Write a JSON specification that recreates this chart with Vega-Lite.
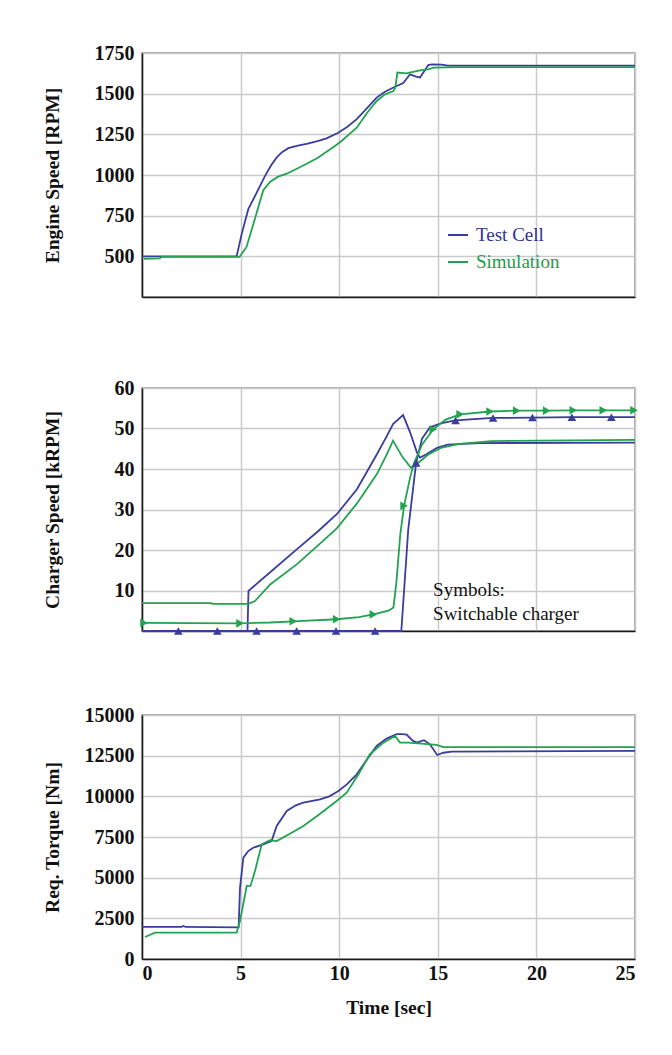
{
  "$schema": "https://vega.github.io/schema/vega-lite/v6.json",
  "padding": {"left": 41, "top": 42, "right": 10, "bottom": 10},
  "background": "white",
  "config": {
    "font": "Liberation Serif",
    "view": {"stroke": "#8c8c8c", "strokeWidth": 1.5},
    "axis": {
      "labelFont": "Liberation Serif", "labelFontSize": 20, "labelFontWeight": "bold", "labelColor": "#111111",
      "titleFont": "Liberation Serif", "titleFontSize": 19.5, "titleFontWeight": "bold", "titleColor": "#111111",
      "gridColor": "#cacaca", "gridWidth": 1.5, "domainColor": "#1a1a1a", "domainWidth": 1.5,
      "ticks": false, "labelPadding": 8
    }
  },
  "datasets": {
    "p1": [
      {"t": 0, "v": 500, "src": "Test Cell"},
      {"t": 4.8, "v": 500, "src": "Test Cell"},
      {"t": 5.05, "v": 635, "src": "Test Cell"},
      {"t": 5.39, "v": 790, "src": "Test Cell"},
      {"t": 5.81, "v": 890, "src": "Test Cell"},
      {"t": 6.24, "v": 995, "src": "Test Cell"},
      {"t": 6.55, "v": 1060, "src": "Test Cell"},
      {"t": 6.83, "v": 1108, "src": "Test Cell"},
      {"t": 7.1, "v": 1140, "src": "Test Cell"},
      {"t": 7.42, "v": 1165, "src": "Test Cell"},
      {"t": 7.9, "v": 1180, "src": "Test Cell"},
      {"t": 8.35, "v": 1192, "src": "Test Cell"},
      {"t": 8.9, "v": 1208, "src": "Test Cell"},
      {"t": 9.36, "v": 1225, "src": "Test Cell"},
      {"t": 9.95, "v": 1260, "src": "Test Cell"},
      {"t": 10.4, "v": 1295, "src": "Test Cell"},
      {"t": 10.89, "v": 1343, "src": "Test Cell"},
      {"t": 11.4, "v": 1410, "src": "Test Cell"},
      {"t": 11.9, "v": 1476, "src": "Test Cell"},
      {"t": 12.3, "v": 1510, "src": "Test Cell"},
      {"t": 12.75, "v": 1538, "src": "Test Cell"},
      {"t": 13.25, "v": 1565, "src": "Test Cell"},
      {"t": 13.59, "v": 1619, "src": "Test Cell"},
      {"t": 13.9, "v": 1605, "src": "Test Cell"},
      {"t": 14.1, "v": 1600, "src": "Test Cell"},
      {"t": 14.52, "v": 1676, "src": "Test Cell"},
      {"t": 14.7, "v": 1680, "src": "Test Cell"},
      {"t": 15.2, "v": 1678, "src": "Test Cell"},
      {"t": 15.5, "v": 1672, "src": "Test Cell"},
      {"t": 25, "v": 1672, "src": "Test Cell"},
      {"t": 0.1, "v": 485, "src": "Simulation"},
      {"t": 0.9, "v": 488, "src": "Simulation"},
      {"t": 1.0, "v": 497, "src": "Simulation"},
      {"t": 4.95, "v": 497, "src": "Simulation"},
      {"t": 5.3, "v": 558, "src": "Simulation"},
      {"t": 5.73, "v": 732, "src": "Simulation"},
      {"t": 6.15, "v": 906, "src": "Simulation"},
      {"t": 6.49, "v": 957, "src": "Simulation"},
      {"t": 6.9, "v": 990, "src": "Simulation"},
      {"t": 7.34, "v": 1008, "src": "Simulation"},
      {"t": 7.8, "v": 1035, "src": "Simulation"},
      {"t": 8.35, "v": 1069, "src": "Simulation"},
      {"t": 8.9, "v": 1105, "src": "Simulation"},
      {"t": 9.36, "v": 1143, "src": "Simulation"},
      {"t": 9.8, "v": 1180, "src": "Simulation"},
      {"t": 10.12, "v": 1209, "src": "Simulation"},
      {"t": 10.5, "v": 1250, "src": "Simulation"},
      {"t": 10.89, "v": 1291, "src": "Simulation"},
      {"t": 11.4, "v": 1380, "src": "Simulation"},
      {"t": 11.9, "v": 1455, "src": "Simulation"},
      {"t": 12.3, "v": 1495, "src": "Simulation"},
      {"t": 12.75, "v": 1516, "src": "Simulation"},
      {"t": 12.85, "v": 1540, "src": "Simulation"},
      {"t": 12.95, "v": 1630, "src": "Simulation"},
      {"t": 13.4, "v": 1625, "src": "Simulation"},
      {"t": 13.8, "v": 1635, "src": "Simulation"},
      {"t": 14.1, "v": 1643, "src": "Simulation"},
      {"t": 14.5, "v": 1650, "src": "Simulation"},
      {"t": 14.8, "v": 1660, "src": "Simulation"},
      {"t": 16.0, "v": 1663, "src": "Simulation"},
      {"t": 25, "v": 1663, "src": "Simulation"}
    ],
    "p2": [
      {"t": 0, "v": 0, "src": "Test Cell", "series": "TC conventional", "mk": false},
      {"t": 5.35, "v": 0, "src": "Test Cell", "series": "TC conventional", "mk": false},
      {"t": 5.4, "v": 9.9, "src": "Test Cell", "series": "TC conventional", "mk": false},
      {"t": 6.5, "v": 14.5, "src": "Test Cell", "series": "TC conventional", "mk": false},
      {"t": 7.86, "v": 20.2, "src": "Test Cell", "series": "TC conventional", "mk": false},
      {"t": 8.9, "v": 24.5, "src": "Test Cell", "series": "TC conventional", "mk": false},
      {"t": 9.89, "v": 28.9, "src": "Test Cell", "series": "TC conventional", "mk": false},
      {"t": 10.9, "v": 35, "src": "Test Cell", "series": "TC conventional", "mk": false},
      {"t": 11.92, "v": 43.7, "src": "Test Cell", "series": "TC conventional", "mk": false},
      {"t": 12.4, "v": 48, "src": "Test Cell", "series": "TC conventional", "mk": false},
      {"t": 12.73, "v": 51.1, "src": "Test Cell", "series": "TC conventional", "mk": false},
      {"t": 13.24, "v": 53.3, "src": "Test Cell", "series": "TC conventional", "mk": false},
      {"t": 13.6, "v": 49, "src": "Test Cell", "series": "TC conventional", "mk": false},
      {"t": 13.95, "v": 44, "src": "Test Cell", "series": "TC conventional", "mk": false},
      {"t": 14.1, "v": 42.8, "src": "Test Cell", "series": "TC conventional", "mk": false},
      {"t": 14.4, "v": 43.6, "src": "Test Cell", "series": "TC conventional", "mk": false},
      {"t": 14.96, "v": 45.2, "src": "Test Cell", "series": "TC conventional", "mk": false},
      {"t": 15.5, "v": 46, "src": "Test Cell", "series": "TC conventional", "mk": false},
      {"t": 17.1, "v": 46.4, "src": "Test Cell", "series": "TC conventional", "mk": false},
      {"t": 25, "v": 46.5, "src": "Test Cell", "series": "TC conventional", "mk": false},
      {"t": 0, "v": 6.9, "src": "Simulation", "series": "Sim conventional", "mk": false},
      {"t": 3.5, "v": 6.9, "src": "Simulation", "series": "Sim conventional", "mk": false},
      {"t": 3.6, "v": 6.7, "src": "Simulation", "series": "Sim conventional", "mk": false},
      {"t": 5.4, "v": 6.7, "src": "Simulation", "series": "Sim conventional", "mk": false},
      {"t": 5.73, "v": 7.4, "src": "Simulation", "series": "Sim conventional", "mk": false},
      {"t": 6.5, "v": 11.5, "src": "Simulation", "series": "Sim conventional", "mk": false},
      {"t": 7.86, "v": 16.5, "src": "Simulation", "series": "Sim conventional", "mk": false},
      {"t": 8.9, "v": 21, "src": "Simulation", "series": "Sim conventional", "mk": false},
      {"t": 9.89, "v": 25.4, "src": "Simulation", "series": "Sim conventional", "mk": false},
      {"t": 10.9, "v": 31.5, "src": "Simulation", "series": "Sim conventional", "mk": false},
      {"t": 11.92, "v": 38.8, "src": "Simulation", "series": "Sim conventional", "mk": false},
      {"t": 12.4, "v": 43.5, "src": "Simulation", "series": "Sim conventional", "mk": false},
      {"t": 12.73, "v": 47.0, "src": "Simulation", "series": "Sim conventional", "mk": false},
      {"t": 13.2, "v": 43, "src": "Simulation", "series": "Sim conventional", "mk": false},
      {"t": 13.64, "v": 40.3, "src": "Simulation", "series": "Sim conventional", "mk": false},
      {"t": 14.0, "v": 41.5, "src": "Simulation", "series": "Sim conventional", "mk": false},
      {"t": 14.5, "v": 43.5, "src": "Simulation", "series": "Sim conventional", "mk": false},
      {"t": 15.2, "v": 45.3, "src": "Simulation", "series": "Sim conventional", "mk": false},
      {"t": 16.1, "v": 46.2, "src": "Simulation", "series": "Sim conventional", "mk": false},
      {"t": 17.7, "v": 46.9, "src": "Simulation", "series": "Sim conventional", "mk": false},
      {"t": 25, "v": 47.2, "src": "Simulation", "series": "Sim conventional", "mk": false},
      {"t": 0, "v": 0, "src": "Test Cell", "series": "TC switchable", "mk": false},
      {"t": 1.84, "v": 0, "src": "Test Cell", "series": "TC switchable", "mk": true},
      {"t": 3.82, "v": 0, "src": "Test Cell", "series": "TC switchable", "mk": true},
      {"t": 5.81, "v": 0, "src": "Test Cell", "series": "TC switchable", "mk": true},
      {"t": 7.84, "v": 0, "src": "Test Cell", "series": "TC switchable", "mk": true},
      {"t": 9.84, "v": 0, "src": "Test Cell", "series": "TC switchable", "mk": true},
      {"t": 11.82, "v": 0, "src": "Test Cell", "series": "TC switchable", "mk": true},
      {"t": 13.15, "v": 0, "src": "Test Cell", "series": "TC switchable", "mk": false},
      {"t": 13.5, "v": 25, "src": "Test Cell", "series": "TC switchable", "mk": false},
      {"t": 13.9, "v": 41.5, "src": "Test Cell", "series": "TC switchable", "mk": true},
      {"t": 14.2, "v": 47.5, "src": "Test Cell", "series": "TC switchable", "mk": false},
      {"t": 14.6, "v": 50.3, "src": "Test Cell", "series": "TC switchable", "mk": false},
      {"t": 15.2, "v": 51.3, "src": "Test Cell", "series": "TC switchable", "mk": false},
      {"t": 15.9, "v": 52.0, "src": "Test Cell", "series": "TC switchable", "mk": true},
      {"t": 17.8, "v": 52.6, "src": "Test Cell", "series": "TC switchable", "mk": true},
      {"t": 19.8, "v": 52.7, "src": "Test Cell", "series": "TC switchable", "mk": true},
      {"t": 21.8, "v": 52.8, "src": "Test Cell", "series": "TC switchable", "mk": true},
      {"t": 23.8, "v": 52.8, "src": "Test Cell", "series": "TC switchable", "mk": true},
      {"t": 25, "v": 52.8, "src": "Test Cell", "series": "TC switchable", "mk": false},
      {"t": 0.1, "v": 2.0, "src": "Simulation", "series": "Sim switchable", "mk": true},
      {"t": 4.97, "v": 1.9, "src": "Simulation", "series": "Sim switchable", "mk": true},
      {"t": 6.5, "v": 2.1, "src": "Simulation", "series": "Sim switchable", "mk": false},
      {"t": 7.67, "v": 2.4, "src": "Simulation", "series": "Sim switchable", "mk": true},
      {"t": 9.87, "v": 2.9, "src": "Simulation", "series": "Sim switchable", "mk": true},
      {"t": 11.0, "v": 3.4, "src": "Simulation", "series": "Sim switchable", "mk": false},
      {"t": 11.73, "v": 4.1, "src": "Simulation", "series": "Sim switchable", "mk": true},
      {"t": 12.5, "v": 5.0, "src": "Simulation", "series": "Sim switchable", "mk": false},
      {"t": 12.75, "v": 5.8, "src": "Simulation", "series": "Sim switchable", "mk": false},
      {"t": 12.9, "v": 12, "src": "Simulation", "series": "Sim switchable", "mk": false},
      {"t": 13.1, "v": 24, "src": "Simulation", "series": "Sim switchable", "mk": false},
      {"t": 13.29, "v": 30.9, "src": "Simulation", "series": "Sim switchable", "mk": true},
      {"t": 13.6, "v": 38, "src": "Simulation", "series": "Sim switchable", "mk": false},
      {"t": 13.8, "v": 41.5, "src": "Simulation", "series": "Sim switchable", "mk": false},
      {"t": 14.2, "v": 46, "src": "Simulation", "series": "Sim switchable", "mk": false},
      {"t": 14.77, "v": 49.8, "src": "Simulation", "series": "Sim switchable", "mk": true},
      {"t": 15.4, "v": 52.2, "src": "Simulation", "series": "Sim switchable", "mk": false},
      {"t": 16.13, "v": 53.5, "src": "Simulation", "series": "Sim switchable", "mk": true},
      {"t": 17.65, "v": 54.2, "src": "Simulation", "series": "Sim switchable", "mk": true},
      {"t": 19.0, "v": 54.4, "src": "Simulation", "series": "Sim switchable", "mk": true},
      {"t": 20.52, "v": 54.4, "src": "Simulation", "series": "Sim switchable", "mk": true},
      {"t": 21.87, "v": 54.5, "src": "Simulation", "series": "Sim switchable", "mk": true},
      {"t": 23.39, "v": 54.5, "src": "Simulation", "series": "Sim switchable", "mk": true},
      {"t": 24.95, "v": 54.5, "src": "Simulation", "series": "Sim switchable", "mk": true}
    ],
    "ann": [
      {"t": 14.76, "v": 10.1, "text": "Symbols:"},
      {"t": 14.76, "v": 4.2, "text": "Switchable charger"}
    ],
    "p3": [
      {"t": 0, "v": 1970, "src": "Test Cell"},
      {"t": 2.0, "v": 1970, "src": "Test Cell"},
      {"t": 2.1, "v": 2030, "src": "Test Cell"},
      {"t": 2.2, "v": 1970, "src": "Test Cell"},
      {"t": 4.9, "v": 1950, "src": "Test Cell"},
      {"t": 4.97, "v": 4380, "src": "Test Cell"},
      {"t": 5.14, "v": 6230, "src": "Test Cell"},
      {"t": 5.4, "v": 6650, "src": "Test Cell"},
      {"t": 5.64, "v": 6840, "src": "Test Cell"},
      {"t": 6.15, "v": 7050, "src": "Test Cell"},
      {"t": 6.57, "v": 7250, "src": "Test Cell"},
      {"t": 6.83, "v": 8180, "src": "Test Cell"},
      {"t": 7.34, "v": 9100, "src": "Test Cell"},
      {"t": 7.8, "v": 9450, "src": "Test Cell"},
      {"t": 8.18, "v": 9610, "src": "Test Cell"},
      {"t": 9.03, "v": 9820, "src": "Test Cell"},
      {"t": 9.5, "v": 10000, "src": "Test Cell"},
      {"t": 9.96, "v": 10330, "src": "Test Cell"},
      {"t": 10.4, "v": 10750, "src": "Test Cell"},
      {"t": 10.89, "v": 11350, "src": "Test Cell"},
      {"t": 11.4, "v": 12250, "src": "Test Cell"},
      {"t": 11.9, "v": 13100, "src": "Test Cell"},
      {"t": 12.4, "v": 13550, "src": "Test Cell"},
      {"t": 12.92, "v": 13820, "src": "Test Cell"},
      {"t": 13.2, "v": 13830, "src": "Test Cell"},
      {"t": 13.42, "v": 13800, "src": "Test Cell"},
      {"t": 13.7, "v": 13450, "src": "Test Cell"},
      {"t": 13.93, "v": 13300, "src": "Test Cell"},
      {"t": 14.3, "v": 13450, "src": "Test Cell"},
      {"t": 14.6, "v": 13200, "src": "Test Cell"},
      {"t": 14.97, "v": 12540, "src": "Test Cell"},
      {"t": 15.28, "v": 12680, "src": "Test Cell"},
      {"t": 15.7, "v": 12750, "src": "Test Cell"},
      {"t": 25, "v": 12790, "src": "Test Cell"},
      {"t": 0.15, "v": 1350, "src": "Simulation"},
      {"t": 0.66, "v": 1620, "src": "Simulation"},
      {"t": 4.8, "v": 1620, "src": "Simulation"},
      {"t": 4.97, "v": 2340, "src": "Simulation"},
      {"t": 5.31, "v": 4490, "src": "Simulation"},
      {"t": 5.5, "v": 4490, "src": "Simulation"},
      {"t": 5.73, "v": 5410, "src": "Simulation"},
      {"t": 6.07, "v": 7050, "src": "Simulation"},
      {"t": 6.49, "v": 7300, "src": "Simulation"},
      {"t": 6.83, "v": 7250, "src": "Simulation"},
      {"t": 7.5, "v": 7700, "src": "Simulation"},
      {"t": 8.18, "v": 8180, "src": "Simulation"},
      {"t": 9.0, "v": 8900, "src": "Simulation"},
      {"t": 9.87, "v": 9710, "src": "Simulation"},
      {"t": 10.38, "v": 10220, "src": "Simulation"},
      {"t": 11.0, "v": 11400, "src": "Simulation"},
      {"t": 11.56, "v": 12590, "src": "Simulation"},
      {"t": 12.24, "v": 13300, "src": "Simulation"},
      {"t": 12.83, "v": 13710, "src": "Simulation"},
      {"t": 13.08, "v": 13300, "src": "Simulation"},
      {"t": 13.5, "v": 13300, "src": "Simulation"},
      {"t": 14.0, "v": 13250, "src": "Simulation"},
      {"t": 14.94, "v": 13160, "src": "Simulation"},
      {"t": 15.28, "v": 13030, "src": "Simulation"},
      {"t": 25, "v": 13030, "src": "Simulation"}
    ]
  },
  "resolve": {"legend": {"color": "independent", "shape": "independent"}},
  "bounds": "flush",
  "spacing": 91,
  "vconcat": [
    {
      "width": 493, "height": 244,
      "data": {"name": "p1"},
      "mark": {"type": "line", "strokeWidth": 1.8},
      "encoding": {
        "x": {"field": "t", "type": "quantitative", "scale": {"domain": [0, 25], "nice": false},
              "axis": {"values": [0, 5, 10, 15, 20, 25], "labels": false, "title": null}},
        "y": {"field": "v", "type": "quantitative", "scale": {"domain": [250, 1750], "nice": false, "zero": false},
              "axis": {"values": [500, 750, 1000, 1250, 1500, 1750], "format": "d", "title": "Engine Speed [RPM]", "titleX": -80}},
        "color": {"field": "src", "type": "nominal",
                  "scale": {"domain": ["Test Cell", "Simulation"], "range": ["#3b3d9e", "#22a34f"]},
                  "legend": {"orient": "none", "legendX": 305, "legendY": 171, "title": null,
                             "symbolType": "stroke", "symbolSize": 400, "symbolStrokeWidth": 2,
                             "labelFont": "Liberation Serif", "labelFontSize": 19, "labelFontWeight": "normal",
                             "labelColor": {"expr": "datum.label == 'Test Cell' ? '#2f3293' : '#1c9c48'"},
                             "rowPadding": 6, "labelOffset": 7}}
      }
    },
    {
      "bounds": "flush",
      "spacing": 84,
      "vconcat": [
        {
          "width": 493, "height": 243,
          "layer": [
            {
              "data": {"name": "p2"},
              "mark": {"type": "line", "strokeWidth": 1.8},
              "encoding": {
                "x": {"field": "t", "type": "quantitative", "scale": {"domain": [0, 25], "nice": false},
                      "axis": {"values": [0, 5, 10, 15, 20, 25], "labels": false, "title": null}},
                "y": {"field": "v", "type": "quantitative", "scale": {"domain": [0, 60], "nice": false},
                      "axis": {"values": [10, 20, 30, 40, 50, 60], "title": "Charger Speed [kRPM]", "titleX": -80}},
                "color": {"field": "src", "type": "nominal",
                          "scale": {"domain": ["Test Cell", "Simulation"], "range": ["#3b3d9e", "#22a34f"]},
                          "legend": null},
                "detail": {"field": "series"}
              }
            },
            {
              "data": {"name": "p2"},
              "transform": [{"filter": "datum.mk"}],
              "mark": {"type": "point", "filled": true, "size": 75, "opacity": 1},
              "encoding": {
                "x": {"field": "t", "type": "quantitative"},
                "y": {"field": "v", "type": "quantitative"},
                "color": {"field": "src", "type": "nominal", "legend": null},
                "shape": {"field": "src", "type": "nominal",
                          "scale": {"domain": ["Test Cell", "Simulation"], "range": ["triangle-up", "triangle-right"]},
                          "legend": null}
              }
            },
            {
              "data": {"name": "ann"},
              "mark": {"type": "text", "align": "left", "baseline": "middle", "font": "Liberation Serif", "fontSize": 19, "color": "#111111"},
              "encoding": {
                "x": {"field": "t", "type": "quantitative"},
                "y": {"field": "v", "type": "quantitative"},
                "text": {"field": "text"}
              }
            }
          ]
        },
        {
          "width": 493, "height": 244,
          "data": {"name": "p3"},
          "mark": {"type": "line", "strokeWidth": 1.8},
          "encoding": {
            "x": {"field": "t", "type": "quantitative", "scale": {"domain": [0, 25], "nice": false},
                  "axis": {"values": [0, 5, 10, 15, 20, 25], "title": "Time [sec]", "labelPadding": 4, "titlePadding": 15}},
            "y": {"field": "v", "type": "quantitative", "scale": {"domain": [0, 15000], "nice": false},
                  "axis": {"values": [0, 2500, 5000, 7500, 10000, 12500, 15000], "format": "d", "title": "Req. Torque [Nm]", "titleX": -80}},
            "color": {"field": "src", "type": "nominal",
                      "scale": {"domain": ["Test Cell", "Simulation"], "range": ["#3b3d9e", "#22a34f"]},
                      "legend": null}
          }
        }
      ]
    }
  ]
}
